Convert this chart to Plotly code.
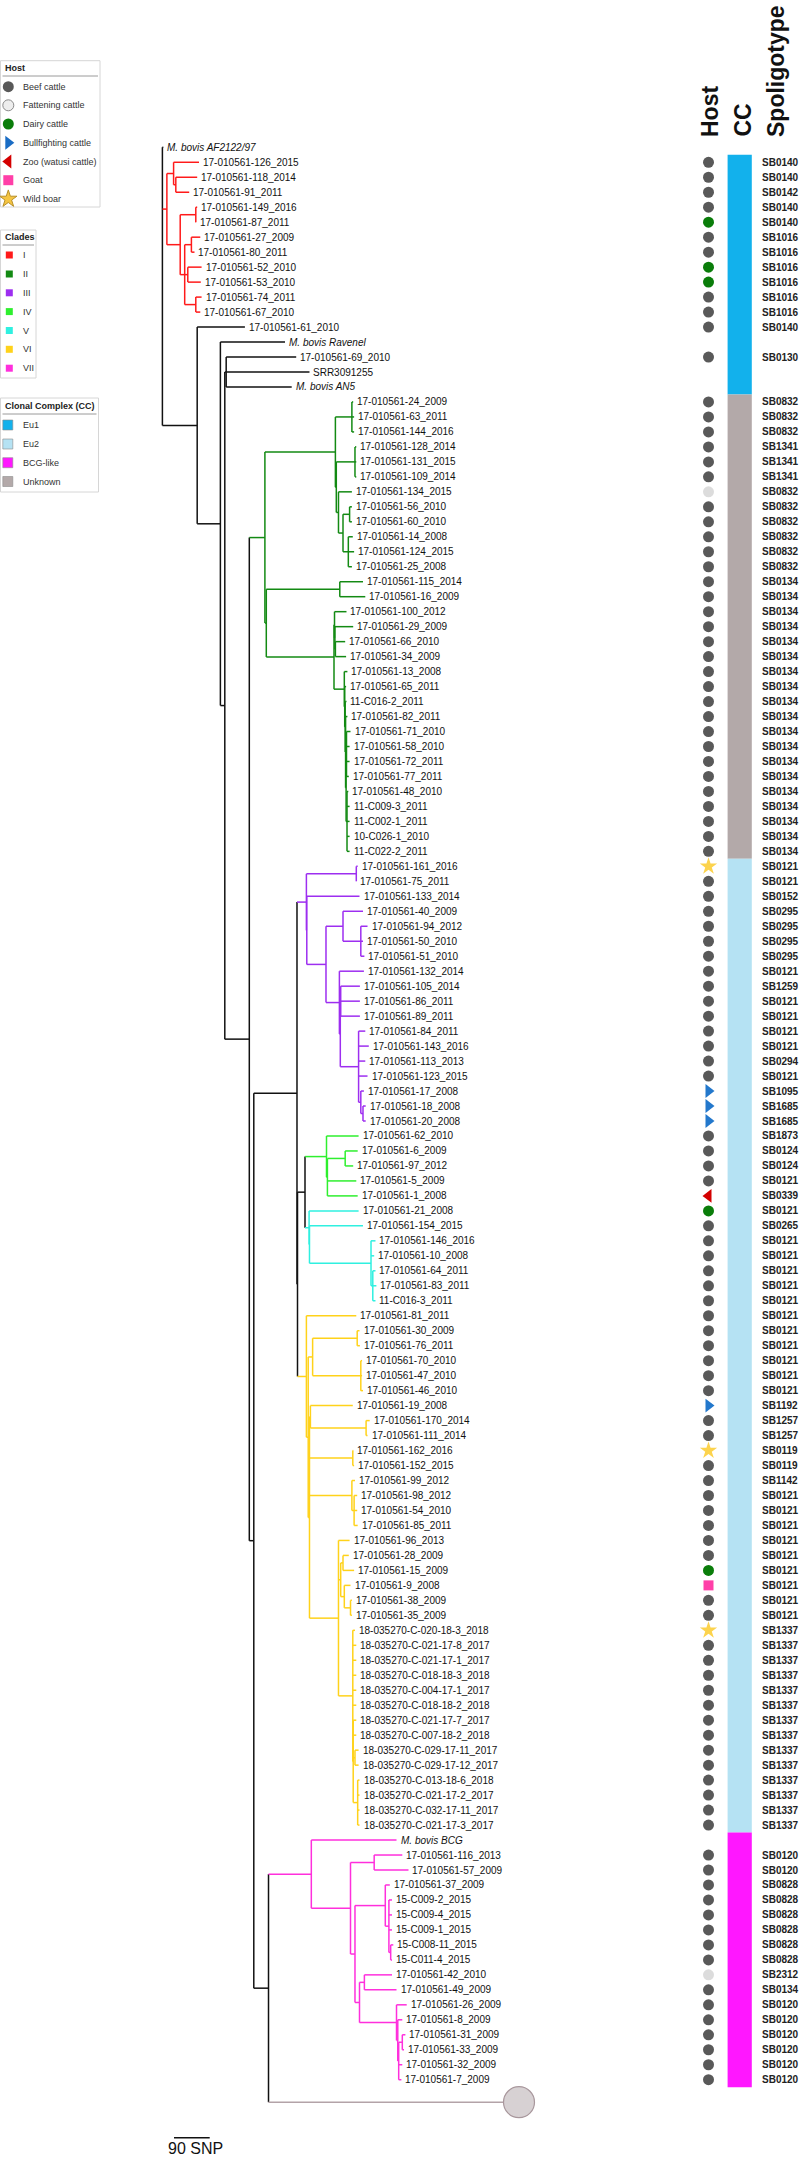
import plotly.graph_objects as go
from itertools import groupby

# ---------------------------------------------------------------- data
labels = [
    "M. bovis AF2122/97",
    "17-010561-126_2015", "17-010561-118_2014", "17-010561-91_2011", "17-010561-149_2016", "17-010561-87_2011",
    "17-010561-27_2009", "17-010561-80_2011", "17-010561-52_2010", "17-010561-53_2010", "17-010561-74_2011",
    "17-010561-67_2010", "17-010561-61_2010", "M. bovis Ravenel", "17-010561-69_2010", "SRR3091255", "M. bovis AN5",
    "17-010561-24_2009", "17-010561-63_2011", "17-010561-144_2016", "17-010561-128_2014", "17-010561-131_2015",
    "17-010561-109_2014", "17-010561-134_2015", "17-010561-56_2010", "17-010561-60_2010", "17-010561-14_2008",
    "17-010561-124_2015", "17-010561-25_2008", "17-010561-115_2014", "17-010561-16_2009", "17-010561-100_2012",
    "17-010561-29_2009", "17-010561-66_2010", "17-010561-34_2009", "17-010561-13_2008", "17-010561-65_2011",
    "11-C016-2_2011", "17-010561-82_2011", "17-010561-71_2010", "17-010561-58_2010", "17-010561-72_2011",
    "17-010561-77_2011", "17-010561-48_2010", "11-C009-3_2011", "11-C002-1_2011", "10-C026-1_2010", "11-C022-2_2011",
    "17-010561-161_2016", "17-010561-75_2011", "17-010561-133_2014", "17-010561-40_2009", "17-010561-94_2012",
    "17-010561-50_2010", "17-010561-51_2010", "17-010561-132_2014", "17-010561-105_2014", "17-010561-86_2011",
    "17-010561-89_2011", "17-010561-84_2011", "17-010561-143_2016", "17-010561-113_2013", "17-010561-123_2015",
    "17-010561-17_2008", "17-010561-18_2008", "17-010561-20_2008",
    "17-010561-62_2010", "17-010561-6_2009", "17-010561-97_2012", "17-010561-5_2009", "17-010561-1_2008",
    "17-010561-21_2008", "17-010561-154_2015", "17-010561-146_2016", "17-010561-10_2008", "17-010561-64_2011",
    "17-010561-83_2011", "11-C016-3_2011",
    "17-010561-81_2011", "17-010561-30_2009", "17-010561-76_2011", "17-010561-70_2010", "17-010561-47_2010",
    "17-010561-46_2010", "17-010561-19_2008", "17-010561-170_2014", "17-010561-111_2014", "17-010561-162_2016",
    "17-010561-152_2015", "17-010561-99_2012", "17-010561-98_2012", "17-010561-54_2010", "17-010561-85_2011",
    "17-010561-96_2013", "17-010561-28_2009", "17-010561-15_2009", "17-010561-9_2008", "17-010561-38_2009",
    "17-010561-35_2009",
    "18-035270-C-020-18-3_2018", "18-035270-C-021-17-8_2017", "18-035270-C-021-17-1_2017", "18-035270-C-018-18-3_2018",
    "18-035270-C-004-17-1_2017", "18-035270-C-018-18-2_2018", "18-035270-C-021-17-7_2017", "18-035270-C-007-18-2_2018",
    "18-035270-C-029-17-11_2017", "18-035270-C-029-17-12_2017", "18-035270-C-013-18-6_2018", "18-035270-C-021-17-2_2017",
    "18-035270-C-032-17-11_2017", "18-035270-C-021-17-3_2017",
    "M. bovis BCG", "17-010561-116_2013", "17-010561-57_2009", "17-010561-37_2009", "15-C009-2_2015",
    "15-C009-4_2015", "15-C009-1_2015", "15-C008-11_2015", "15-C011-4_2015", "17-010561-42_2010",
    "17-010561-49_2009", "17-010561-26_2009", "17-010561-8_2009", "17-010561-31_2009", "17-010561-33_2009",
    "17-010561-32_2009", "17-010561-7_2009",
]

# B beef, F fattening, D dairy, T bullfighting, Z zoo, G goat, W wild boar, "" none
hosts = [
    "", "B", "B", "B", "B", "D", "B", "B", "D", "D", "B", "B", "B", "", "B", "", "",
    "B", "B", "B", "B", "B", "B", "F", "B", "B", "B", "B", "B",
    "B", "B", "B", "B", "B", "B", "B", "B", "B", "B", "B", "B", "B", "B", "B", "B", "B", "B", "B",
    "W", "B", "B", "B", "B", "B", "B", "B", "B", "B", "B", "B", "B", "B", "B", "T", "T", "T",
    "B", "B", "B", "B", "Z", "D", "B", "B", "B", "B", "B", "B",
    "B", "B", "B", "B", "B", "B", "T", "B", "B", "W", "B", "B", "B", "B", "B", "B", "B", "D", "G", "B", "B",
    "W", "B", "B", "B", "B", "B", "B", "B", "B", "B", "B", "B", "B", "B",
    "", "B", "B", "B", "B", "B", "B", "B", "B", "F", "B", "B", "B", "B", "B", "B", "B",
]

clonal_complex = (
    [""] +
    ["Eu1", "Eu1", "Eu1", "Eu1", "Eu1", "Eu1", "Eu1", "Eu1", "Eu1", "Eu1", "Eu1", "Eu1", "Eu1", "Eu1", "Eu1", "Eu1"] +
    ["Unknown", "Unknown", "Unknown", "Unknown", "Unknown", "Unknown", "Unknown", "Unknown", "Unknown", "Unknown",
     "Unknown", "Unknown", "Unknown", "Unknown", "Unknown", "Unknown", "Unknown", "Unknown", "Unknown", "Unknown",
     "Unknown", "Unknown", "Unknown", "Unknown", "Unknown", "Unknown", "Unknown", "Unknown", "Unknown", "Unknown",
     "Unknown"] +
    ["Eu2", "Eu2", "Eu2", "Eu2", "Eu2", "Eu2", "Eu2", "Eu2", "Eu2", "Eu2", "Eu2", "Eu2", "Eu2", "Eu2", "Eu2",
     "Eu2", "Eu2", "Eu2", "Eu2", "Eu2", "Eu2", "Eu2", "Eu2", "Eu2", "Eu2", "Eu2", "Eu2", "Eu2", "Eu2", "Eu2",
     "Eu2", "Eu2", "Eu2", "Eu2", "Eu2", "Eu2", "Eu2", "Eu2", "Eu2", "Eu2", "Eu2", "Eu2", "Eu2", "Eu2", "Eu2",
     "Eu2", "Eu2", "Eu2", "Eu2", "Eu2", "Eu2", "Eu2", "Eu2", "Eu2", "Eu2", "Eu2", "Eu2", "Eu2", "Eu2", "Eu2",
     "Eu2", "Eu2", "Eu2", "Eu2", "Eu2"] +
    ["BCG-like", "BCG-like", "BCG-like", "BCG-like", "BCG-like", "BCG-like", "BCG-like", "BCG-like", "BCG-like",
     "BCG-like", "BCG-like", "BCG-like", "BCG-like", "BCG-like", "BCG-like", "BCG-like", "BCG-like"]
)

spoligotypes = [
    "", "SB0140", "SB0140", "SB0142", "SB0140", "SB0140", "SB1016", "SB1016", "SB1016", "SB1016", "SB1016",
    "SB1016", "SB0140", "", "SB0130", "", "",
    "SB0832", "SB0832", "SB0832", "SB1341", "SB1341", "SB1341", "SB0832", "SB0832", "SB0832", "SB0832",
    "SB0832", "SB0832", "SB0134", "SB0134", "SB0134", "SB0134", "SB0134", "SB0134", "SB0134", "SB0134",
    "SB0134", "SB0134", "SB0134", "SB0134", "SB0134", "SB0134", "SB0134", "SB0134", "SB0134", "SB0134", "SB0134",
    "SB0121", "SB0121", "SB0152", "SB0295", "SB0295", "SB0295", "SB0295", "SB0121", "SB1259", "SB0121",
    "SB0121", "SB0121", "SB0121", "SB0294", "SB0121", "SB1095", "SB1685", "SB1685",
    "SB1873", "SB0124", "SB0124", "SB0121", "SB0339", "SB0121", "SB0265", "SB0121", "SB0121", "SB0121",
    "SB0121", "SB0121",
    "SB0121", "SB0121", "SB0121", "SB0121", "SB0121", "SB0121", "SB1192", "SB1257", "SB1257", "SB0119",
    "SB0119", "SB1142", "SB0121", "SB0121", "SB0121", "SB0121", "SB0121", "SB0121", "SB0121", "SB0121",
    "SB0121",
    "SB1337", "SB1337", "SB1337", "SB1337", "SB1337", "SB1337", "SB1337", "SB1337", "SB1337", "SB1337",
    "SB1337", "SB1337", "SB1337", "SB1337",
    "", "SB0120", "SB0120", "SB0828", "SB0828", "SB0828", "SB0828", "SB0828", "SB0828", "SB2312",
    "SB0134", "SB0120", "SB0120", "SB0120", "SB0120", "SB0120", "SB0120",
]

# tree (leaf names are indices into `labels`, branch lengths in SNPs, internal tags = clade)
clade_I = ("((1:64.1,(2:53.9,3:33.8):5.6):16.9,((4:3.5,5:0.5):39.3,((6:22.4,7:7.8):16.9,"
           "(8:34.8,9:32.8):7.8,(10:14.6,11:11.3):28):11.3):33.6)I:11.3")
clade_II = ("(((17:3.3,18:5.6,19:5.6):41.6,((20:3.3,21:3.3,22:3.3):47.1,(23:33.8,((24:5.8,25:5.8):16.6,"
            "(26:11.3,27:14.6,28:9):13.4):11.4):5.5):2.3):177.7,((29:58.5,30:64.3):185.3,((31:30.2,(32:46.1,"
            "(33:24.7,34:27):1.2):1):1.3,(35:7.8,(36:3.5,(37:3.3,(38:4.6,((39:10.1,40:7.8,41:7.8,42:5.8):1,"
            "(43:3.3,44:6.5,45:6.5,46:6.5,47:6.5):2.3):1.3):1):1.2):1):26):170.7):3.5)II:39.3")
clade_III = ("((48:3.5,49:0.3):125.8,(50:132.9,((51:50.4,(52:16.9,53:5.5,54:9):44.9):42.9,(55:61.8,"
             "((56:48.4,57:48.4,58:48.4):1,(59:16.9,60:25.7,61:16.9,62:22.5,(63:7.8,(64:6.8,65:6.8):5.5):5.6)"
             ":46.1):2.3):33.8):48.4):1)III:23.7")
clade_IV = "(66:80.9,((67:31.5,68:20.2):44.8,69:72.8,70:76.3):2.3)IV:54.2"
clade_V = "(71:124.8,(72:134.9,(73:11.3,74:8,(75:6.8,76:9.1,77:6.8):4.5):155.1):1)V:10.3"
clade_VI = ("(78:125.8,(((79:5.8,80:6.8):112.4,(81:3.2,82:3.2,83:5.5):121.5):11.1,((84:106.9,(85:9.1,86:3.6)"
            ":140.4):2.3,(87:1,88:3.3):109.2,(89:7.8,(90:7.8,91:7.8,92:9):5.6):106.9,(93:28,((94:14.6,95:28)"
            ":5.8,(96:15.6,(97:3.5,98:3.5):15.6):9.1):5.6,(99:5.5,100:8.8,101:8.8,102:8.8,103:8.8,104:8.8,"
            "(105:7.8,106:7.8,(107:9.1,108:9.1):4.5,(109:4.6,110:4.6,111:4.6,112:4.6):11.3):1):36.1):73.1)"
            ":3.2):4.6)VI:22.4")
clade_VII = ("(113:214.8,((114:70.9,115:86.5):59.7,((116:11.4,(117:7.8,118:7.8,119:7.8,(120:6.6,121:3.3)"
             ":4.5):9.1):76.4,((122:69.6,123:81):12.3,(124:25.7,(125:11.4,((126:7.8,127:4.3):9.1,128:9.1,"
             "129:6.8):2.3):3.2):93.3):11.4):11.3):98.8)VII:107.9")
newick = ("(0:2.3," + clade_I + ",(12:120.3,(13:162.9,((14:176.5,15:210,16:165.2):3.5,(" + clade_II +
          ",((" + clade_III + ",((" + clade_IV + "," + clade_V + "):18.9," + clade_VI + "):1.3):108.9,(" +
          clade_VII + ",OUT:631.5):37.1):11.3):61.8):11.1):58.5):87.7);")

scale_bar_snp = 90

clade_names = ["I", "II", "III", "IV", "V", "VI", "VII"]
clade_colors = ["#ff1a1a", "#138a13", "#9d2ef0", "#2eef2e", "#2ff0e0", "#ffd21a", "#ff2fdc"]
host_codes = ["B", "F", "D", "T", "Z", "G", "W"]
host_names = ["Beef cattle", "Fattening cattle", "Dairy cattle", "Bullfighting cattle",
              "Zoo (watusi cattle)", "Goat", "Wild boar"]
host_colors = ["#595959", "#dcdcdc", "#0a7d0a", "#2378cc", "#d40000", "#ff3fa8", "#fcd34d"]
host_symbols = ["circle", "circle", "circle", "triangle-right", "triangle-left", "square", "star"]
host_sizes = [11, 11, 11, 12, 12, 10, 13]
cc_names = ["Eu1", "Eu2", "BCG-like", "Unknown"]
cc_colors = ["#12b1ec", "#b5e2f3", "#ff17ff", "#b3a9a9"]

# ---------------------------------------------------------------- geometry / style
W, H = 799, 2159
FONT = "Liberation Sans, Arial, sans-serif"
ROOT_PX = 162.4          # pixel x of the root
PX_PER_SNP = 35.7 / 90   # pixels per SNP
ROW0_PX = 147.3          # pixel y of first leaf
ROW_PX = 14.98           # leaf spacing
HOST_X = 708.5
CC_X0, CC_W = 727.6, 24.2
SPOL_X = 760


# ---------------------------------------------------------------- parse newick
def parse(s):
    pos = 0

    def node():
        nonlocal pos
        n = {"children": [], "name": "", "len": 0.0}
        if s[pos] == "(":
            pos += 1
            while True:
                n["children"].append(node())
                if s[pos] == ",":
                    pos += 1
                elif s[pos] == ")":
                    pos += 1
                    break
                else:
                    raise ValueError("bad newick at %d" % pos)
        start = pos
        while pos < len(s) and s[pos] not in ",():;":
            pos += 1
        n["name"] = s[start:pos].strip()
        if pos < len(s) and s[pos] == ":":
            pos += 1
            start = pos
            while pos < len(s) and s[pos] not in ",();":
                pos += 1
            n["len"] = float(s[start:pos])
        return n

    return node()


tree = parse(newick)
counter = [0]


def place(n, x0, clade):
    n["x"] = x0 + n["len"]
    if n["name"] in clade_names:
        clade = n["name"]
    n["clade"] = clade
    if n["children"]:
        for ch in n["children"]:
            place(ch, n["x"], clade)
        n["y"] = (n["children"][0]["y"] + n["children"][-1]["y"]) / 2
    elif n["name"] == "OUT":
        n["clade"] = "OUT"
        n["y"] = counter[0] + 0.5
        counter[0] += 2
    else:
        n["leaf"] = int(n["name"])
        n["y"] = counter[0]
        counter[0] += 1


place(tree, 0.0, None)

OUT_COLOR = "#b3a3a8"


def col(n):
    if n["clade"] == "OUT":
        return OUT_COLOR
    if n["clade"] in clade_names:
        return clade_colors[clade_names.index(n["clade"])]
    return "#111111"


segs = {}
leaves = []
outgroup = []


def add(c, xs, ys):
    d = segs.setdefault(c, ([], []))
    d[0].extend(xs + [None])
    d[1].extend(ys + [None])


def walk(n):
    if n["children"]:
        add(col(n), [n["x"], n["x"]], [n["children"][0]["y"], n["children"][-1]["y"]])
        for ch in n["children"]:
            add(col(ch), [n["x"], ch["x"]], [ch["y"], ch["y"]])
            walk(ch)
    elif n["name"] == "OUT":
        outgroup.append(n)
    else:
        leaves.append(n)


walk(tree)
leaf_row = {n["leaf"]: n["y"] for n in leaves}
leaf_x = {n["leaf"]: n["x"] for n in leaves}

fig = go.Figure()
for c, (xs, ys) in segs.items():
    fig.add_trace(go.Scatter(x=xs, y=ys, mode="lines", line=dict(color=c, width=1.5),
                             hoverinfo="skip", showlegend=False))

# collapsed outgroup circle
for n in outgroup:
    fig.add_trace(go.Scatter(x=[n["x"]], y=[n["y"]], mode="markers",
                             marker=dict(size=31, color="#d7d1d3", line=dict(color="#a8979c", width=1.2)),
                             hoverinfo="skip", showlegend=False))

annotations = []
# leaf labels + spoligotypes
for i in sorted(leaf_row):
    t = labels[i]
    if t.startswith("M. bovis"):
        t = "<i>" + t + "</i>"
    annotations.append(dict(x=leaf_x[i], y=leaf_row[i], xref="x", yref="y", text=t, showarrow=False,
                            xanchor="left", yanchor="middle", xshift=2,
                            font=dict(size=10, color="#111111", family=FONT)))
    if spoligotypes[i]:
        annotations.append(dict(x=SPOL_X, y=leaf_row[i], xref="x2", yref="y", text="<b>" + spoligotypes[i] + "</b>",
                                showarrow=False, xanchor="left", yanchor="middle",
                                font=dict(size=10, color="#222222", family=FONT)))

# host markers
for code, color, sym, size in zip(host_codes, host_colors, host_symbols, host_sizes):
    rows = [leaf_row[i] for i in range(len(labels)) if hosts[i] == code]
    if rows:
        fig.add_trace(go.Scatter(x=[HOST_X] * len(rows), y=rows, xaxis="x2", yaxis="y", mode="markers",
                                 marker=dict(symbol=sym, size=size, color=color, line=dict(width=0)),
                                 hoverinfo="skip", showlegend=False))

# clonal complex strip (runs of identical CC)
bx, by, bw, bc = [], [], [], []
for key, grp in groupby(range(len(labels)), key=lambda i: clonal_complex[i]):
    grp = list(grp)
    if not key:
        continue
    r0, r1 = leaf_row[grp[0]], leaf_row[grp[-1]]
    by.append((r0 + r1) / 2)
    bw.append(r1 - r0 + 1)
    bx.append(CC_W)
    bc.append(cc_colors[cc_names.index(key)])
fig.add_trace(go.Bar(x=bx, y=by, base=[CC_X0] * len(bx), width=bw, orientation="h", xaxis="x2", yaxis="y",
                     marker=dict(color=bc, line=dict(width=0)), hoverinfo="skip", showlegend=False))

# column headers
for text, xc in [("Host", 709.5), ("CC", 742), ("Spoligotype", 776)]:
    annotations.append(dict(x=xc, y=139, xref="x2", yref="y2", text="<b>" + text + "</b>", textangle=-90,
                            showarrow=False, xanchor="center", yanchor="bottom",
                            font=dict(size=23, color="#111111", family=FONT)))

# scale bar
sb_x0 = (174 - ROOT_PX) / PX_PER_SNP
fig.add_trace(go.Scatter(x=[sb_x0, sb_x0 + scale_bar_snp], y=[2137.7, 2137.7], xaxis="x", yaxis="y2",
                         mode="lines", line=dict(color="#111111", width=1.6), hoverinfo="skip", showlegend=False))
annotations.append(dict(x=sb_x0 + scale_bar_snp / 2, y=2158.5, xref="x", yref="y2", xshift=4,
                        text=f"{scale_bar_snp} SNP", showarrow=False, xanchor="center", yanchor="bottom",
                        font=dict(size=16, color="#111111", family=FONT)))

# ---------------------------------------------------------------- legends (pixel space)
shapes = []


def legend_box(x1, y0, y1, title, ty, uy):
    shapes.append(dict(type="rect", xref="x2", yref="y2", x0=0.5, x1=x1, y0=y0, y1=y1,
                       line=dict(color="#d6d6d6", width=1), fillcolor="white", layer="below"))
    shapes.append(dict(type="line", xref="x2", yref="y2", x0=2.5, x1=x1 - 2, y0=uy, y1=uy,
                       line=dict(color="#9a9a9a", width=1)))
    annotations.append(dict(x=3, y=ty, xref="x2", yref="y2", text="<b>" + title + "</b>", showarrow=False,
                            xanchor="left", yanchor="middle", font=dict(size=9, color="#222222", family=FONT)))


def legend_items(names, ys):
    for nm, yy in zip(names, ys):
        annotations.append(dict(x=20.5, y=yy, xref="x2", yref="y2", text=nm, showarrow=False,
                                xanchor="left", yanchor="middle", font=dict(size=9, color="#333333", family=FONT)))


host_leg_y = [86.7, 105.3, 124, 142.7, 161.5, 180.2, 199]
legend_box(100, 60.7, 207, "Host", 68, 76)
legend_items(host_names, host_leg_y)
leg_line = ["rgba(0,0,0,0)", "#8a8a8a", "rgba(0,0,0,0)", "rgba(0,0,0,0)", "rgba(0,0,0,0)", "rgba(0,0,0,0)", "#b8902a"]
leg_fill = ["#595959", "#eeeeee", "#0a7d0a", "#1a6cc4", "#d40000", "#ff3fa8", "#f5c542"]
for yy, c, lc, sym, sz in zip(host_leg_y, leg_fill, leg_line, host_symbols, host_sizes):
    fig.add_trace(go.Scatter(x=[8.3], y=[yy], xaxis="x2", yaxis="y2", mode="markers",
                             marker=dict(symbol=sym, size=sz, color=c, line=dict(color=lc, width=1)),
                             hoverinfo="skip", showlegend=False))

clade_leg_y = [255, 274, 292.8, 311.6, 330.5, 349.3, 368.2]
legend_box(36, 230, 378, "Clades", 237, 245)
legend_items(clade_names, clade_leg_y)
fig.add_trace(go.Scatter(x=[9.3] * 7, y=clade_leg_y, xaxis="x2", yaxis="y2", mode="markers",
                         marker=dict(symbol="square", size=7, color=clade_colors, line=dict(width=0)),
                         hoverinfo="skip", showlegend=False))

cc_leg_y = [425, 444, 462.7, 481.5]
legend_box(98.5, 398, 492, "Clonal Complex (CC)", 406, 414)
legend_items(cc_names, cc_leg_y)
fig.add_trace(go.Scatter(x=[7.8] * 4, y=cc_leg_y, xaxis="x2", yaxis="y2", mode="markers",
                         marker=dict(symbol="square", size=10, color=cc_colors,
                                     line=dict(color="#8c8c8c", width=0.6)),
                         hoverinfo="skip", showlegend=False))

# ---------------------------------------------------------------- layout
x_range = [-ROOT_PX / PX_PER_SNP, (W - ROOT_PX) / PX_PER_SNP]
y_range = [(H - ROW0_PX) / ROW_PX, -ROW0_PX / ROW_PX]
fig.update_layout(
    width=W, height=H, margin=dict(l=0, r=0, t=0, b=0, pad=0),
    paper_bgcolor="white", plot_bgcolor="white", showlegend=False, barmode="overlay",
    font=dict(family=FONT),
    xaxis=dict(range=x_range, visible=False, fixedrange=True),
    yaxis=dict(range=y_range, visible=False, fixedrange=True),
    xaxis2=dict(range=[0, W], overlaying="x", anchor="y", visible=False, fixedrange=True),
    yaxis2=dict(range=[H, 0], overlaying="y", anchor="x", visible=False, fixedrange=True),
    annotations=annotations, shapes=shapes,
)

fig.write_html("out.html", config={"displayModeBar": False, "staticPlot": True},
               post_script="document.body.style.margin='0';")
